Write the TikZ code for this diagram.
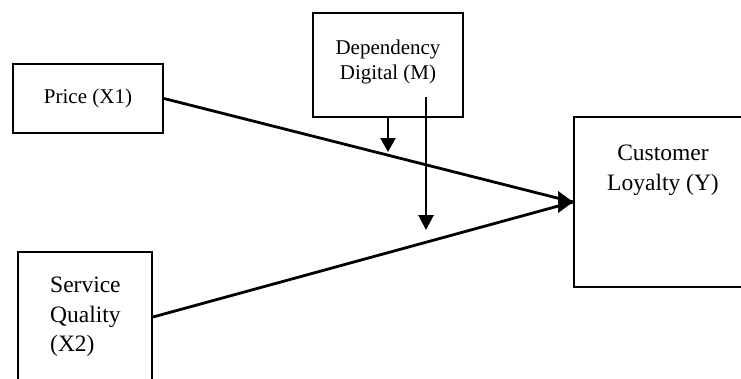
\documentclass[tikz,border=0pt]{standalone}
\usepackage{fontspec}
\setmainfont{Liberation Serif}
\usetikzlibrary{arrows.meta,calc}
\begin{document}
\begin{tikzpicture}[x=1pt,y=-1pt,
  box/.style={draw, line width=2pt, rectangle, inner sep=0pt},
  link/.style={line width=2.8pt},
  downtip/.style={-{Triangle[length=15pt,width=15pt]}},
  smalltext/.style={font=\fontsize{21}{24.5}\selectfont, inner sep=0pt},
  largetext/.style={font=\fontsize{23.5}{29.5}\selectfont, inner sep=0pt}]
\useasboundingbox (0,0) rectangle (741,378);
\clip (0,0) rectangle (741,378);

% boxes
\node[box, smalltext, minimum width=150pt, minimum height=69pt] (price) at (88,98.5) {Price (X1)};
\node[box, minimum width=150pt, minimum height=104pt] (dep) at (388,65) {};
\node[smalltext, align=center, anchor=north] (deptext) at (388,40) {Dependency\\Digital (M)};
\node[box, minimum width=174pt, minimum height=170pt] (cust) at (661,202) {};
\node[largetext, align=center, anchor=north] (custtext) at (663,145) {Customer\\Loyalty (Y)};
\node[box, minimum width=134pt, minimum height=130pt] (serv) at (85,317) {};
\node[largetext, align=left, anchor=north west] (servtext) at (50,277) {Service\\Quality\\(X2)};

% paths into Customer Loyalty
\draw[link] (price.east) -- (cust.west);
\draw[link] (serv.east) -- (cust.west);
\coordinate (headbase) at ($(cust.west)+(-15,0)$);
\draw[line width=0.5pt, -{Triangle[length=15pt,width=22pt]}] (headbase) -- (cust.west);

% moderator arrows
\coordinate (mstart) at (426,97);
\coordinate (mend) at (426,230);
\draw[link, downtip] (mstart) -- (mend);
\coordinate (send) at (388,152);
\draw[line width=2pt, -{Triangle[length=14pt,width=15pt]}] (dep.south) -- (send);
\end{tikzpicture}
\end{document}
